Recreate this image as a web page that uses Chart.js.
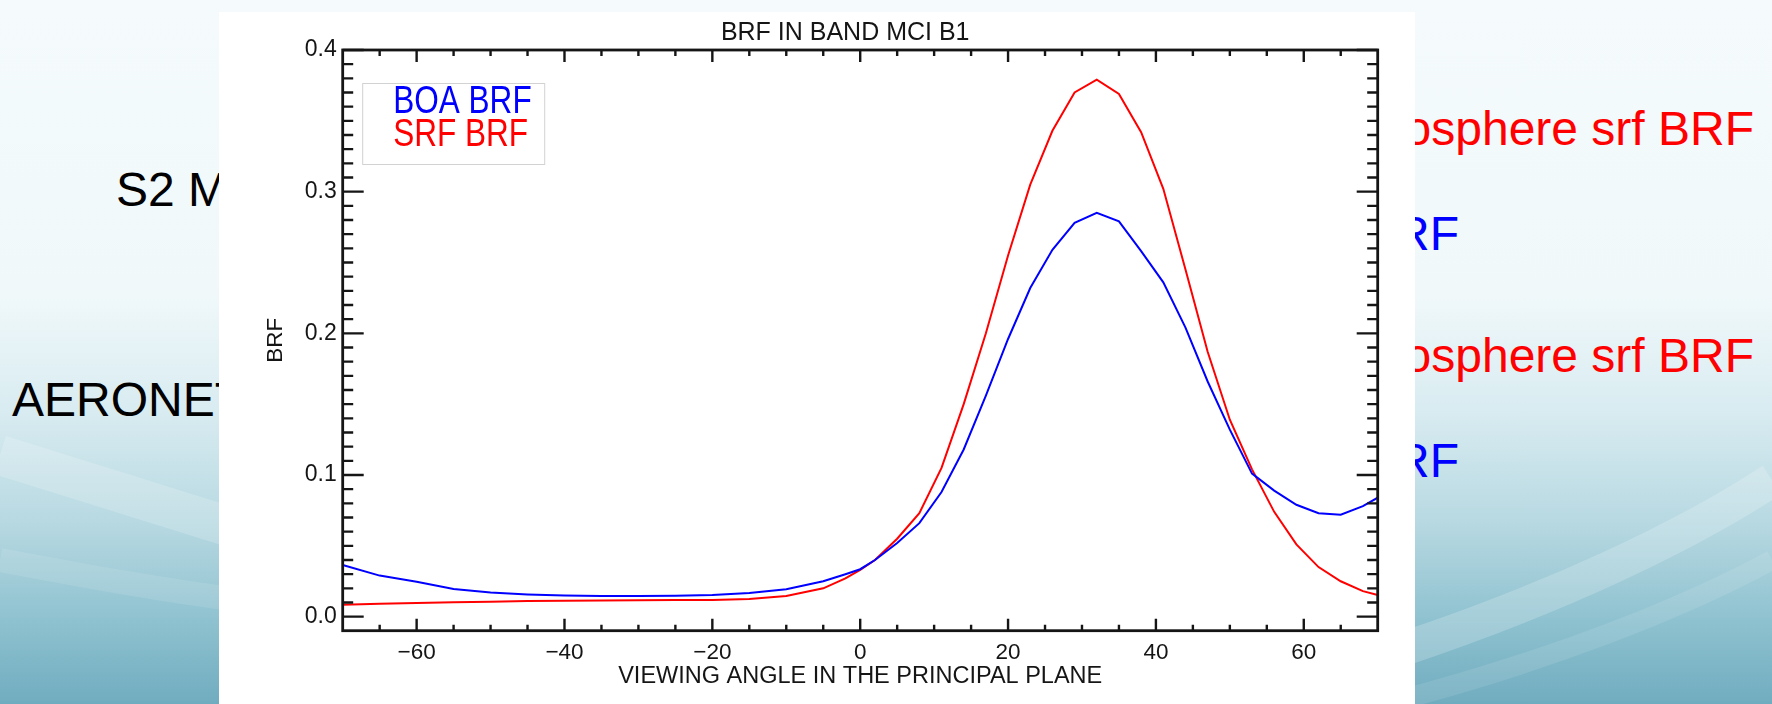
<!DOCTYPE html>
<html>
<head>
<meta charset="utf-8">
<script src="https://cdn.jsdelivr.net/npm/chart.js@4.4.1/dist/chart.umd.min.js"></script>
<style>
    html, body { margin: 0; padding: 0; }
    body {
        width: 1772px;
        height: 704px;
        overflow: hidden;
        position: relative;
        font-family: 'Liberation Sans', Arial, sans-serif;
        background: linear-gradient(180deg, #f5fbfc 0%, #f0f8fa 42%, #d9ecf1 58%, #b8d9e2 74%, #8fc2d0 88%, #70acbf 100%);
    }
    #swoosh { position: absolute; left: 0; top: 0; }
    .slide-text {
        position: absolute;
        font-size: 48px;
        line-height: 1;
        white-space: nowrap;
    }
    #card {
        position: absolute;
        left: 219px;
        top: 12px;
        width: 1196px;
        height: 692px;
        background: #ffffff;
    }
</style>
</head>
<body>

<svg id="swoosh" width="1772" height="704">
    <path d="M0 455 C 80 480, 160 505, 240 530" stroke="rgba(255,255,255,0.18)" stroke-width="40" fill="none"/>
    <path d="M0 560 C 80 575, 160 590, 240 600" stroke="rgba(255,255,255,0.10)" stroke-width="24" fill="none"/>
    <path d="M1400 650 C 1550 600, 1680 540, 1772 480" stroke="rgba(255,255,255,0.20)" stroke-width="34" fill="none"/>
    <path d="M1400 700 C 1550 660, 1680 610, 1772 560" stroke="rgba(255,255,255,0.10)" stroke-width="20" fill="none"/>
</svg>

<div class="slide-text" style="left:116px; top:166px; color:#000;">S2 MSI</div>
<div class="slide-text" style="left:12px; top:376px; color:#000;">AERONET</div>
<div class="slide-text" style="right:18px; top:105px; color:#ff0000;">Top of atmosphere srf BRF</div>
<div class="slide-text" style="right:313px; top:210px; color:#0000ff;">BOA BRF</div>
<div class="slide-text" style="right:18px; top:332px; color:#ff0000;">Top of atmosphere srf BRF</div>
<div class="slide-text" style="right:313px; top:437px; color:#0000ff;">BOA BRF</div>

<div id="card"><canvas id="brf-chart"></canvas></div>

<script>
/* ---- data ---- */
var ANGLES  = [-70, -65, -60, -55, -50, -45, -40, -35, -30, -25, -20, -15, -10, -5, -2, 0,
               2, 5, 8, 11, 14, 17, 20, 23, 26, 29, 32, 35, 38, 41, 44, 47, 50, 53, 56, 59, 62, 65, 68, 70];
var BOA_BRF = [0.0365, 0.029, 0.0247, 0.0195, 0.017, 0.0157, 0.0149, 0.0146, 0.0146, 0.0148, 0.0153, 0.0167, 0.0193, 0.025, 0.030, 0.0335,
               0.040, 0.052, 0.066, 0.088, 0.118, 0.156, 0.196, 0.232, 0.259, 0.278, 0.285, 0.279, 0.258, 0.236, 0.204, 0.166, 0.132, 0.101, 0.089, 0.079, 0.073, 0.072, 0.078, 0.084];
var SRF_BRF = [0.0085, 0.0092, 0.0097, 0.0102, 0.0106, 0.011, 0.0113, 0.0115, 0.0116, 0.0117, 0.0118, 0.0125, 0.0146, 0.020, 0.027, 0.033,
               0.040, 0.055, 0.073, 0.105, 0.150, 0.200, 0.255, 0.305, 0.343, 0.370, 0.379, 0.369, 0.342, 0.302, 0.245, 0.187, 0.139, 0.104, 0.074, 0.051, 0.035, 0.025, 0.018, 0.0153];

var X_TICKS = [-60, -40, -20, 0, 20, 40, 60];
var Y_TICKS = [0.0, 0.1, 0.2, 0.3, 0.4];
var TITLE   = 'BRF IN BAND MCI B1';

var INK = '#151515';
var FONT = "'Liberation Sans', Arial, sans-serif";

function toPoints(xs, ys) {
    return xs.map(function(x, i) { return { x: x, y: ys[i] }; });
}

// IDL-style frame: box plus inward ticks on all four sides, title centred on the plot box
var frameTicks = {
    id: 'frameTicks',
    afterDatasetsDraw: function(chart) {
        var ctx = chart.ctx;
        var a   = chart.chartArea;
        var xs  = chart.scales.x;
        var ys  = chart.scales.y;
        ctx.save();
        ctx.strokeStyle = INK;
        ctx.lineWidth = 2.4;
        ctx.beginPath();
        for (var v = -65; v <= 65; v += 5) {
            var px  = xs.getPixelForValue(v);
            var len = (v % 20 === 0) ? 12 : 6;
            ctx.moveTo(px, a.bottom); ctx.lineTo(px, a.bottom - len);
            ctx.moveTo(px, a.top);    ctx.lineTo(px, a.top + len);
        }
        for (var i = 0; i <= 40; i++) {
            var py = ys.getPixelForValue(i / 100);
            var l2 = (i % 10 === 0) ? 21 : 10.5;
            ctx.moveTo(a.left, py);  ctx.lineTo(a.left + l2, py);
            ctx.moveTo(a.right, py); ctx.lineTo(a.right - l2, py);
        }
        ctx.stroke();
        ctx.lineWidth = 2.8;
        ctx.strokeRect(a.left, a.top, a.right - a.left, a.bottom - a.top);

        ctx.fillStyle = INK;
        ctx.font = '25px ' + FONT;
        ctx.textAlign = 'center';
        ctx.textBaseline = 'middle';
        ctx.fillText(TITLE, (a.left + a.right) / 2 - 15, a.top - 17);
        ctx.restore();
    }
};

// boxed legend with narrow lettering
var boxLegend = {
    id: 'boxLegend',
    afterDraw: function(chart) {
        var ctx = chart.ctx;
        var a   = chart.chartArea;
        var bx = a.left + 19.5, by = a.top + 33;
        ctx.save();
        ctx.strokeStyle = '#d2d2d2';
        ctx.lineWidth = 1;
        ctx.strokeRect(bx + 0.5, by + 0.5, 182, 81);
        var items = [
            { text: chart.data.datasets[0].label, color: chart.data.datasets[0].borderColor, base: by + 30 },
            { text: chart.data.datasets[1].label, color: chart.data.datasets[1].borderColor, base: by + 63 }
        ];
        ctx.font = '38px ' + FONT;
        ctx.textBaseline = 'alphabetic';
        items.forEach(function(it) {
            ctx.save();
            ctx.translate(bx + 31, it.base);
            ctx.scale(0.83, 1);
            ctx.fillStyle = it.color;
            ctx.fillText(it.text, 0, 0);
            ctx.restore();
        });
        ctx.restore();
    }
};

new Chart(document.getElementById('brf-chart'), {
    type: 'line',
    data: {
        datasets: [
            {
                label: 'BOA BRF',
                data: toPoints(ANGLES, BOA_BRF),
                borderColor: '#0000ff',
                borderWidth: 2,
                pointRadius: 0,
                tension: 0,
                fill: false
            },
            {
                label: 'SRF BRF',
                data: toPoints(ANGLES, SRF_BRF),
                borderColor: '#ff0000',
                borderWidth: 2,
                pointRadius: 0,
                tension: 0,
                fill: false
            }
        ]
    },
    options: {
        responsive: true,
        maintainAspectRatio: false,
        animation: false,
        layout: { padding: { left: 0, right: 37.3, top: 38, bottom: 0 } },
        plugins: {
            legend: { display: false },
            tooltip: { enabled: false },
            title: { display: false }
        },
        scales: {
            x: {
                type: 'linear',
                min: -70,
                max: 70,
                afterBuildTicks: function(s) {
                    s.ticks = X_TICKS.map(function(v) { return { value: v }; });
                },
                afterFit: function(s) { s.height = 73.3; },
                grid: { display: false, drawTicks: false },
                border: { display: false },
                ticks: {
                    color: INK,
                    font: { family: FONT, size: 22.5 },
                    padding: 9,
                    maxRotation: 0,
                    autoSkip: false,
                    callback: function(v) { return v < 0 ? '\u2212' + Math.abs(v) : String(v); }
                },
                title: {
                    display: true,
                    text: 'VIEWING ANGLE IN THE PRINCIPAL PLANE',
                    color: INK,
                    font: { family: FONT, size: 23.5 },
                    padding: { top: 0, bottom: 12.9 }
                }
            },
            y: {
                min: -0.0099,
                max: 0.4,
                afterBuildTicks: function(s) {
                    s.ticks = Y_TICKS.map(function(v) { return { value: v }; });
                },
                afterFit: function(s) { s.width = 123.7; },
                grid: { display: false, drawTicks: false },
                border: { display: false },
                ticks: {
                    color: INK,
                    font: { family: FONT, size: 23 },
                    padding: 6,
                    callback: function(v) { return v.toFixed(1); }
                },
                title: {
                    display: true,
                    text: 'BRF',
                    color: INK,
                    font: { family: FONT, size: 22.5 },
                    padding: { top: 43, bottom: 0 }
                }
            }
        }
    },
    plugins: [frameTicks, boxLegend]
});
</script>
</body>
</html>
